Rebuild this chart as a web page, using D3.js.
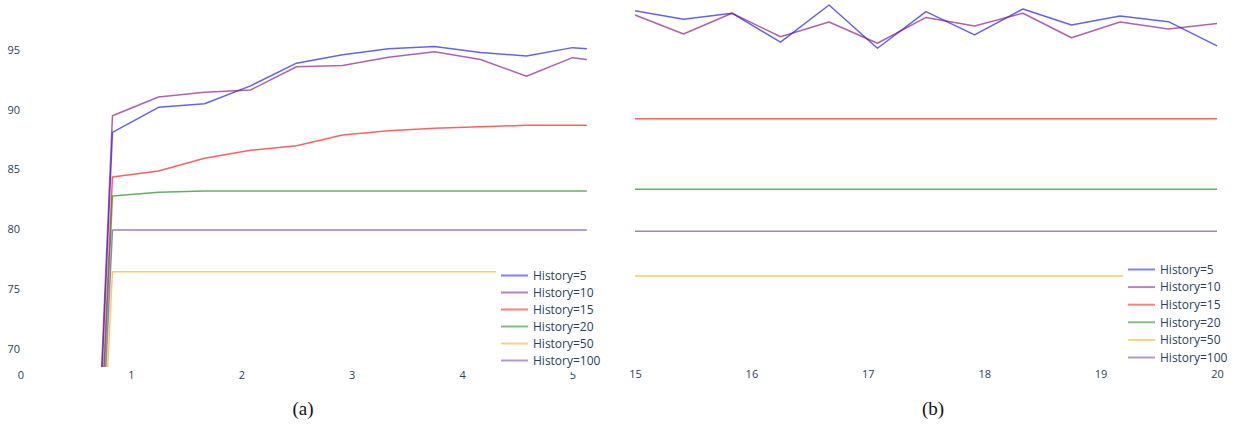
<!DOCTYPE html>
<html>
<head>
<meta charset="utf-8">
<script src="https://cdn.jsdelivr.net/npm/d3@7"></script>
<style>
  body { margin: 0; background: #fff; }
  .tick text { font-family: 'Open Sans', sans-serif; font-size: 11px; fill: #2a3f5f; }
  .legend-label { font-family: 'Open Sans', sans-serif; font-size: 12px; fill: #2a3f5f; }
  .caption { font-family: 'Liberation Serif', serif; font-size: 19px; fill: #111; }
</style>
</head>
<body>
<svg id="chart" width="1242" height="426"></svg>
<script>
// series names and colours
const seriesNames = ['History=5', 'History=10', 'History=15', 'History=20', 'History=50', 'History=100'];
const seriesColors = ['blue', 'purple', 'red', 'green', 'orange', 'rebeccapurple'];

// panel (a): start of the run
const leftX = [0.417, 0.833, 1.25, 1.667, 2.083, 2.5, 2.917, 3.333, 3.75, 4.167, 4.583, 5.0, 5.13];
const leftH5 = [0, 88.1, 90.2, 90.5, 92.0, 93.9, 94.6, 95.1, 95.3, 94.8, 94.5, 95.2, 95.1];
const leftH10 = [0, 89.5, 91.06, 91.46, 91.65, 93.6, 93.7, 94.4, 94.86, 94.2, 92.8, 94.36, 94.2];
const leftH15 = [0, 84.36, 84.87, 85.93, 86.6, 86.99, 87.88, 88.24, 88.44, 88.58, 88.69, 88.69, 88.69];
const leftH20 = [0, 82.77, 83.08, 83.19, 83.19, 83.19, 83.19, 83.19, 83.19, 83.19, 83.19, 83.19, 83.19];
const leftH50 = [0, 76.43, 76.43, 76.43, 76.43, 76.43, 76.43, 76.43, 76.43, 76.43, 76.43, 76.43, 76.43];
const leftH100 = [0, 79.92, 79.92, 79.92, 79.92, 79.92, 79.92, 79.92, 79.92, 79.92, 79.92, 79.92, 79.92];
const leftXTicks = [0, 1, 2, 3, 4, 5];
const leftYTicks = [70, 75, 80, 85, 90, 95];

// panel (b): end of the run
const rightX = [15, 15.417, 15.833, 16.25, 16.667, 17.083, 17.5, 17.917, 18.333, 18.75, 19.167, 19.583, 20];
const rightH5 = [97.11, 96.44, 96.91, 94.65, 97.55, 94.18, 97.03, 95.22, 97.24, 95.99, 96.7, 96.25, 94.36];
const rightH10 = [96.77, 95.29, 96.91, 95.08, 96.23, 94.57, 96.58, 95.92, 96.91, 95.0, 96.23, 95.68, 96.1];
const rightH15 = [88.69, 88.69, 88.69, 88.69, 88.69, 88.69, 88.69, 88.69, 88.69, 88.69, 88.69, 88.69, 88.69];
const rightH20 = [83.19, 83.19, 83.19, 83.19, 83.19, 83.19, 83.19, 83.19, 83.19, 83.19, 83.19, 83.19, 83.19];
const rightH50 = [76.43, 76.43, 76.43, 76.43, 76.43, 76.43, 76.43, 76.43, 76.43, 76.43, 76.43, 76.43, 76.43];
const rightH100 = [79.92, 79.92, 79.92, 79.92, 79.92, 79.92, 79.92, 79.92, 79.92, 79.92, 79.92, 79.92, 79.92];
const rightXTicks = [15, 16, 17, 18, 19, 20];

const svg = d3.select('#chart');

function drawPanel(cfg) {
  const g = svg.append('g');
  const x = d3.scaleLinear().domain(cfg.xDomain).range(cfg.xRange);
  const y = d3.scaleLinear().domain(cfg.yDomain).range([cfg.bottom, 0]);

  // plot area: lines are cut at the bottom edge
  g.append('clipPath').attr('id', cfg.id)
    .append('rect')
    .attr('x', cfg.clip[0]).attr('y', 0)
    .attr('width', cfg.clip[1] - cfg.clip[0])
    .attr('height', cfg.bottom);

  const line = d3.line()
    .x((d) => x(d[0]))
    .y((d) => y(d[1]));

  const lines = g.append('g').attr('clip-path', `url(#${cfg.id})`);
  cfg.series.forEach((vals, i) => {
    lines.append('path')
      .datum(cfg.xs.map((v, j) => [v, vals[j]]))
      .attr('fill', 'none')
      .attr('stroke', seriesColors[i])
      .attr('stroke-opacity', 0.62)
      .attr('stroke-width', 1.5)
      .attr('stroke-linejoin', 'round')
      .attr('d', line);
  });

  const xAxis = g.append('g')
    .attr('transform', `translate(0,${cfg.tickY})`)
    .call(d3.axisBottom(x).tickValues(cfg.xTicks).tickSize(0).tickPadding(0).tickFormat(d3.format('d')));
  xAxis.select('.domain').remove();
  xAxis.selectAll('text').attr('dy', '0.35em');

  if (cfg.yTicks) {
    const yAxis = g.append('g')
      .attr('transform', `translate(${cfg.yLabelX},0)`)
      .call(d3.axisLeft(y).tickValues(cfg.yTicks).tickSize(0).tickPadding(0));
    yAxis.select('.domain').remove();
  }

  // legend with white background, drawn over the lines and the last tick label
  const lg = g.append('g').attr('transform', `translate(${cfg.legend.x},${cfg.legend.y})`);
  lg.append('rect')
    .attr('x', 0).attr('y', 0)
    .attr('width', cfg.legend.w).attr('height', cfg.legend.h)
    .attr('fill', '#fff');
  seriesNames.forEach((name, i) => {
    const yy = cfg.legend.first + i * cfg.legend.step;
    lg.append('line')
      .attr('x1', 5).attr('x2', 32)
      .attr('y1', yy).attr('y2', yy)
      .attr('stroke', seriesColors[i])
      .attr('stroke-opacity', 0.5)
      .attr('stroke-width', 2);
    lg.append('text')
      .attr('class', 'legend-label')
      .attr('x', 37).attr('y', yy)
      .attr('dy', '0.35em')
      .text(name);
  });

  svg.append('text')
    .attr('class', 'caption')
    .attr('x', cfg.captionX).attr('y', 415)
    .attr('text-anchor', 'middle')
    .text(cfg.caption);
}

drawPanel({
  id: 'clipA',
  xs: leftX,
  series: [leftH5, leftH10, leftH15, leftH20, leftH50, leftH100],
  xDomain: [0, 5], xRange: [20.5, 572.5], clip: [20, 600],
  yDomain: [68.45, 99.19], bottom: 367,
  xTicks: leftXTicks, yTicks: leftYTicks, yLabelX: 20,
  tickY: 375,
  legend: { x: 496, y: 266, w: 108, h: 106, first: 9.5, step: 17 },
  caption: '(a)', captionX: 303,
});

drawPanel({
  id: 'clipB',
  xs: rightX,
  series: [rightH5, rightH10, rightH15, rightH20, rightH50, rightH100],
  xDomain: [15, 20], xRange: [635, 1217], clip: [630, 1222],
  yDomain: [69.34, 97.94], bottom: 367,
  xTicks: rightXTicks, yTicks: null,
  tickY: 374,
  legend: { x: 1123, y: 261, w: 119, h: 109, first: 8.5, step: 17.6 },
  caption: '(b)', captionX: 933,
});
</script>
</body>
</html>
